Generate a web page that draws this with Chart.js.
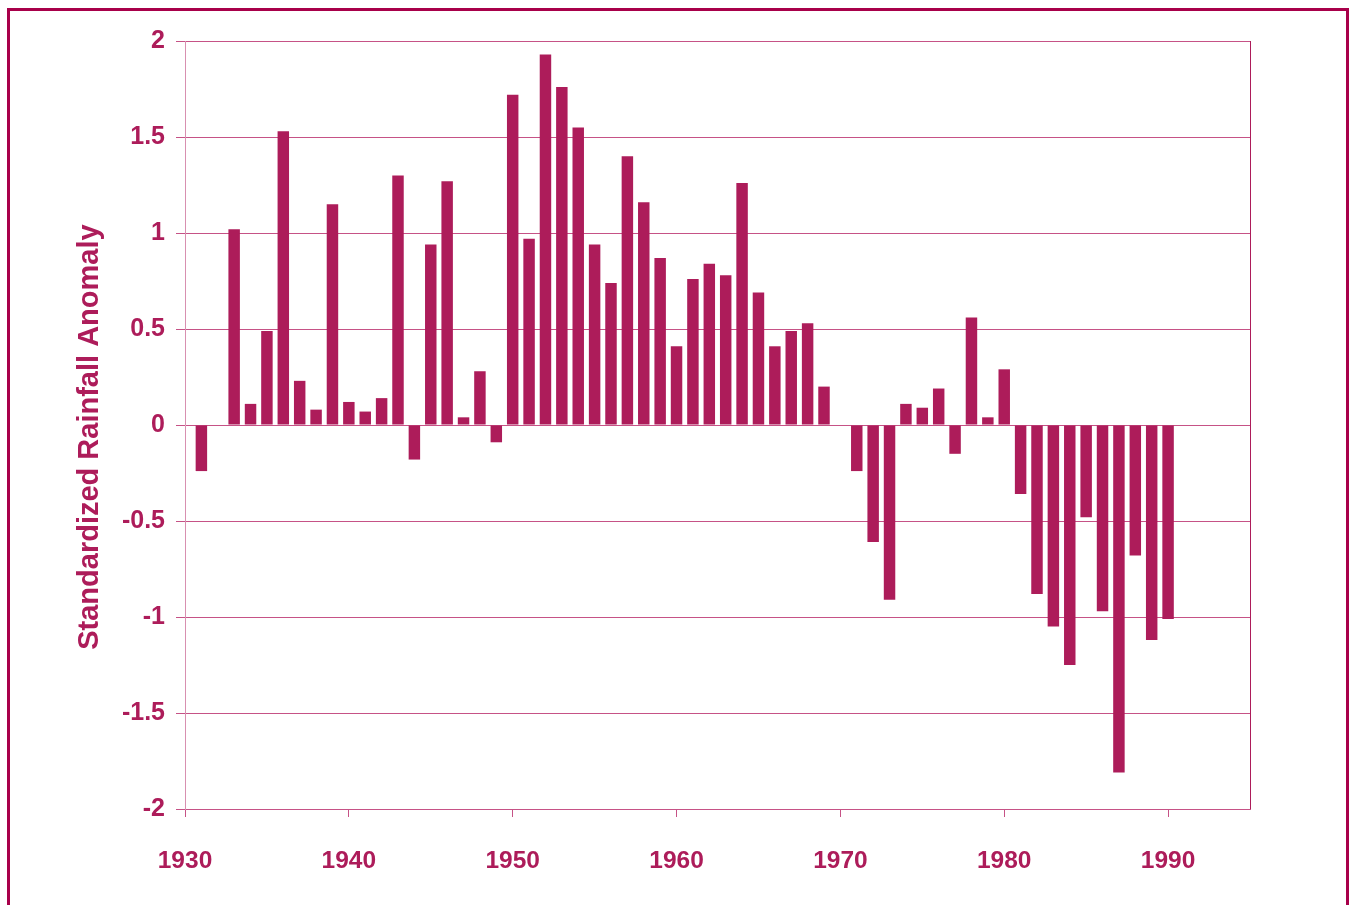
<!DOCTYPE html>
<html>
<head>
<meta charset="utf-8">
<title>Standardized Rainfall Anomaly</title>
<script src="https://cdn.jsdelivr.net/npm/chart.js@4/dist/chart.umd.min.js"></script>
<style>
  html, body { margin: 0; padding: 0; background: #fff; overflow: hidden; }
  #wrap { position: relative; width: 1351px; height: 905px; }
  #frame {
    position: absolute; left: 7px; top: 8px; width: 1336px; height: 920px;
    border: 3px solid #a8004a; pointer-events: none;
  }
</style>
</head>
<body>
<div id="wrap">
  <canvas id="myChart" width="1351" height="905"></canvas>
  <div id="frame"></div>
</div>
<script>
// years on the axis (1930..1995), one slot per year
const years = [];
for (let yr = 1930; yr <= 1995; yr++) years.push(yr);

// anomaly values, null = no bar
const anomalies = [
  null, -0.24, null, 1.02, 0.11, 0.49, 1.53, 0.23, 0.08, 1.15,   // 1930-1939
  0.12, 0.07, 0.14, 1.30, -0.18, 0.94, 1.27, 0.04, 0.28, -0.09,  // 1940-1949
  1.72, 0.97, 1.93, 1.76, 1.55, 0.94, 0.74, 1.40, 1.16, 0.87,    // 1950-1959
  0.41, 0.76, 0.84, 0.78, 1.26, 0.69, 0.41, 0.49, 0.53, 0.20,    // 1960-1969
  null, -0.24, -0.61, -0.91, 0.11, 0.09, 0.19, -0.15, 0.56, 0.04, // 1970-1979
  0.29, -0.36, -0.88, -1.05, -1.25, -0.48, -0.97, -1.81, -0.68, -1.12, // 1980-1989
  -1.01, null, null, null, null, null                            // 1990-1995
];

const yTicks = [-2, -1.5, -1, -0.5, 0, 0.5, 1, 1.5, 2];
const xTickYears = [1930, 1940, 1950, 1960, 1970, 1980, 1990];

const mainColor = '#ad1c5a';
const gridColor = '#c65286';
const fontFamily = '"Liberation Sans", Arial, sans-serif';

const rightBorder = {
  id: 'rightBorder',
  afterDraw(chart) {
    const a = chart.chartArea;
    const c = chart.ctx;
    c.save();
    c.strokeStyle = mainColor;
    c.lineWidth = 1;
    c.beginPath();
    c.moveTo(Math.round(a.right) + 0.5, a.top);
    c.lineTo(Math.round(a.right) + 0.5, a.bottom);
    c.stroke();
    c.restore();
  }
};

const ctx = document.getElementById('myChart').getContext('2d');
new Chart(ctx, {
  type: 'bar',
  data: {
    labels: years,
    datasets: [{
      label: 'Standardized Rainfall Anomaly',
      data: anomalies,
      backgroundColor: mainColor,
      borderWidth: 0,
      categoryPercentage: 1,
      barPercentage: 0.7
    }]
  },
  options: {
    responsive: false,
    animation: false,
    devicePixelRatio: 1,
    layout: { padding: { top: 41, right: 101, bottom: 0, left: 0 } },
    plugins: { legend: { display: false }, tooltip: { enabled: false } },
    scales: {
      x: {
        offset: false,
        grid: {
          offset: false,
          drawOnChartArea: false,
          tickLength: 8,
          color: c => xTickYears.includes(years[c.index]) ? gridColor : 'rgba(0,0,0,0)'
        },
        border: { color: gridColor },
        ticks: {
          autoSkip: false,
          maxRotation: 0,
          padding: 30,
          color: mainColor,
          font: { family: fontFamily, size: 24.5, weight: 'bold' },
          callback: (v, i) => xTickYears.includes(years[i]) ? String(years[i]) : ''
        },
        afterFit: s => { s.height = 96; }
      },
      y: {
        min: -2,
        max: 2,
        afterBuildTicks: s => { s.ticks = yTicks.map(v => ({ value: v })); },
        grid: { color: gridColor, tickLength: 9 },
        border: { color: '#d890b0' },
        ticks: {
          padding: 11,
          color: mainColor,
          font: { family: fontFamily, size: 25, weight: 'bold' },
          callback: v => String(v)
        },
        title: {
          display: true,
          // trailing nbsp nudges the rotated title a little lower, like the original
          text: 'Standardized Rainfall Anomaly\u00a0\u00a0\u00a0',
          color: mainColor,
          font: { family: fontFamily, size: 29, weight: 'bold' },
          padding: { top: 73, bottom: 0 }
        },
        afterFit: s => { s.width = 185; }
      }
    }
  },
  plugins: [rightBorder]
});
</script>
</body>
</html>
